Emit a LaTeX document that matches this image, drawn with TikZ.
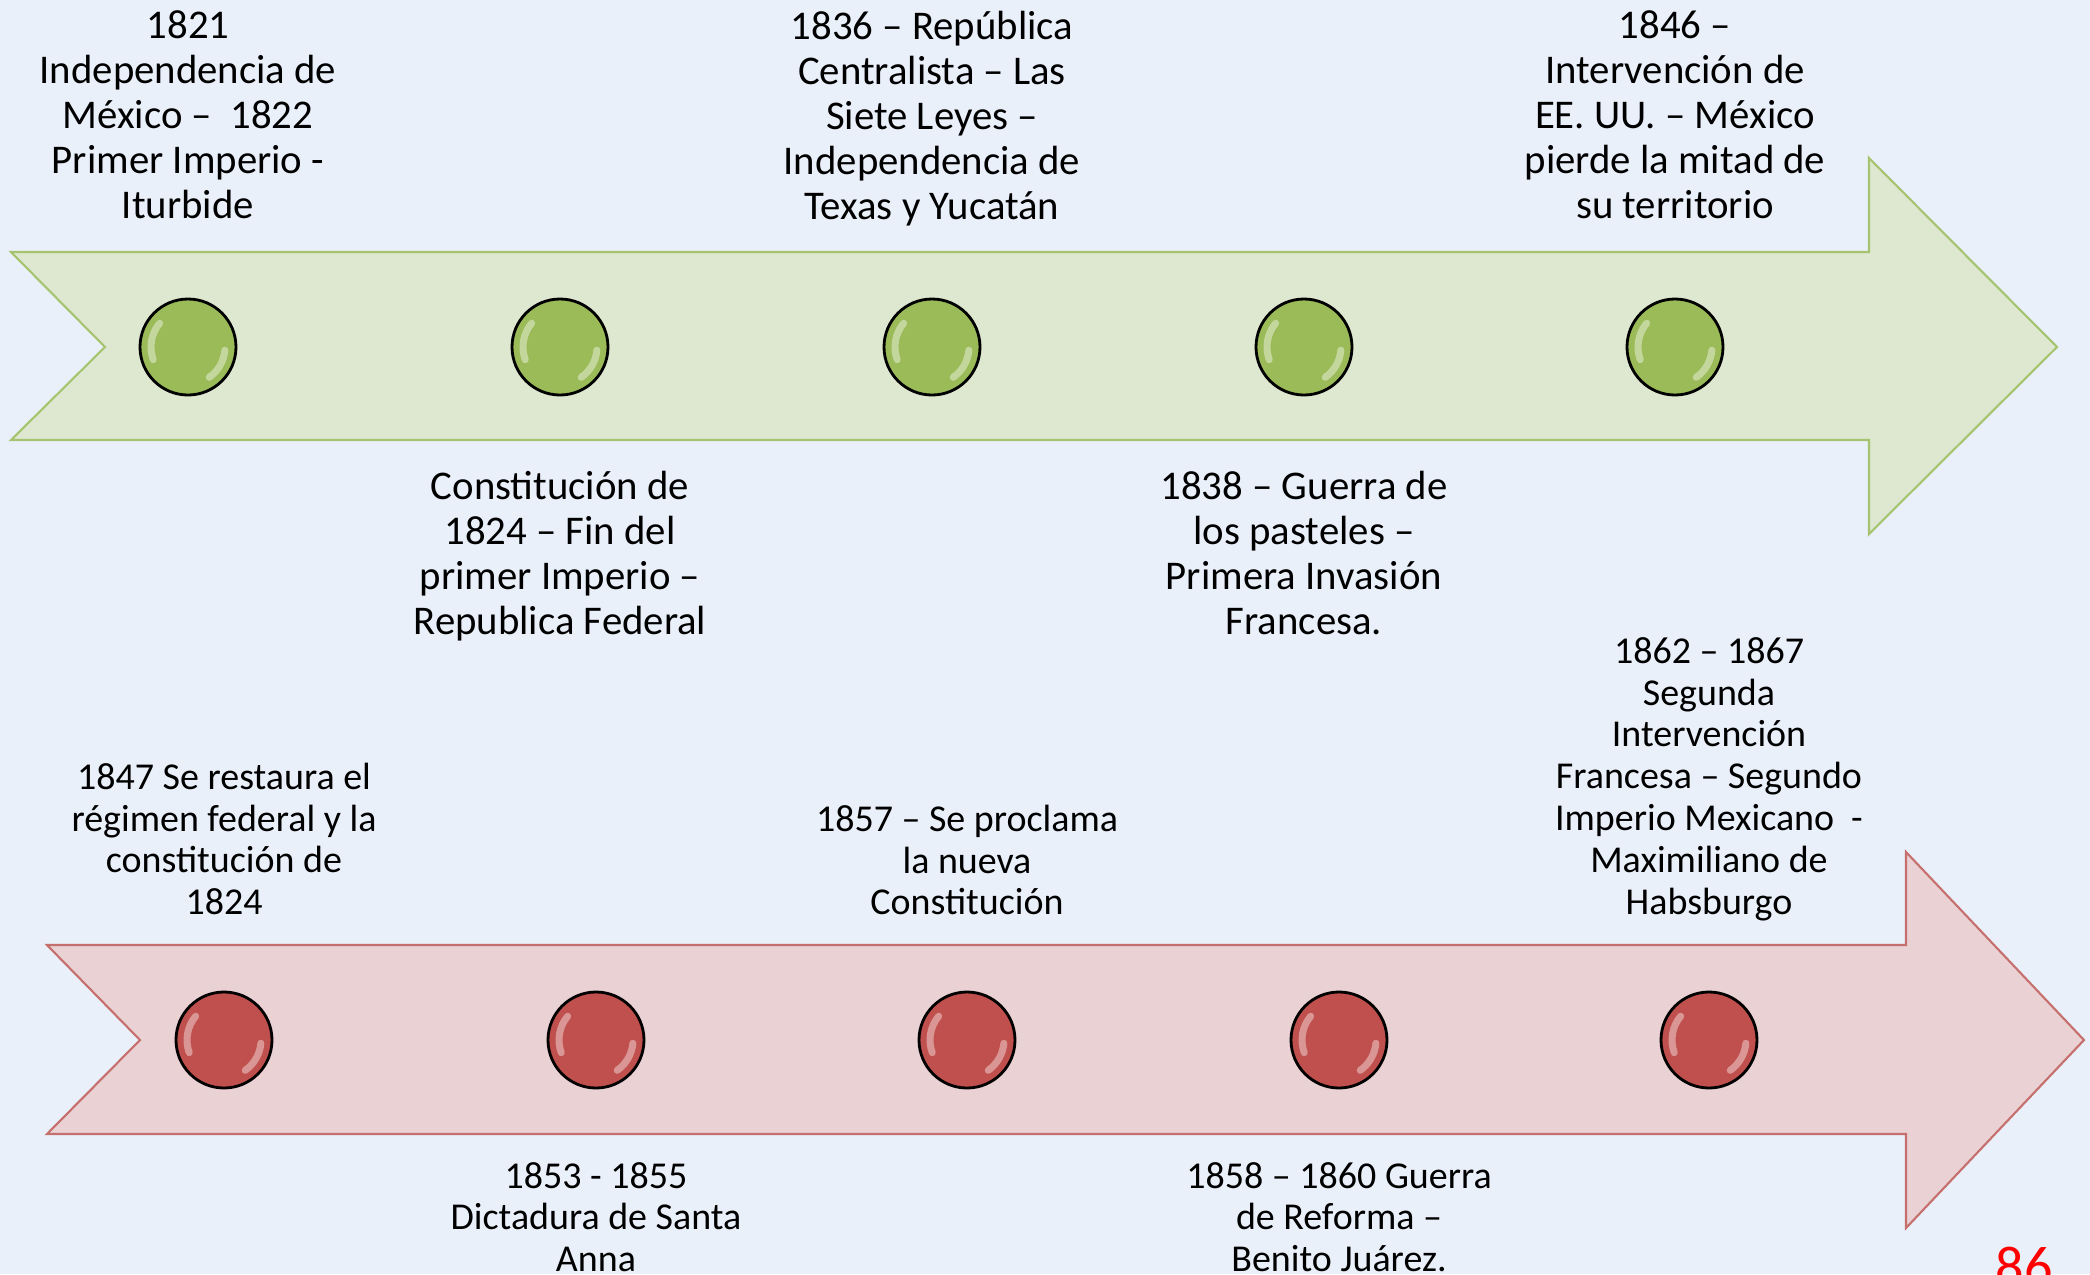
\documentclass[tikz,border=0pt]{standalone}
\usepackage{fontspec}
\setmainfont{Carlito}
\definecolor{tlbg}{RGB}{234,240,250}
\definecolor{tlgreen}{RGB}{155,187,89}
\definecolor{tlgreenfill}{RGB}{222,232,208}
\definecolor{tlgreenline}{RGB}{166,196,112}
\definecolor{tlred}{RGB}{192,80,77}
\definecolor{tlredfill}{RGB}{233,209,212}
\definecolor{tlredline}{RGB}{198,112,110}
\definecolor{pagered}{RGB}{255,0,0}
\begin{document}
\begin{tikzpicture}[x=0.1mm,y=-0.1mm,
    ball/.style={circle,draw=black,line width=0.8pt,minimum size=9.6mm,inner sep=0pt,
      path picture={
        \draw[white,opacity=.4,line width=0.7mm,line cap=round]
          (path picture bounding box.center) +(140:3.7mm) arc[start angle=140,end angle=200,radius=3.7mm];
        \draw[white,opacity=.4,line width=0.7mm,line cap=round]
          (path picture bounding box.center) +(-5:3.7mm) arc[start angle=-5,end angle=-55,radius=3.7mm];
      }},
    gball/.style={ball,fill=tlgreen},
    rball/.style={ball,fill=tlred},
    uptext/.style={align=center,inner sep=0pt,font=\fontsize{11.6}{12.8}\selectfont},
    lowtext/.style={align=center,inner sep=0pt,font=\fontsize{10.8}{11.9}\selectfont}]
  \useasboundingbox (0,0) rectangle (2090,1274);
  \fill[tlbg] (0,0) rectangle (2090,1274);
  % Arrows
  \draw[fill=tlgreenfill,draw=tlgreenline,line width=0.6pt]
    (11,252) -- (1869,252) -- (1869,158) -- (2057,347) -- (1869,534)
    -- (1869,440) -- (11,440) -- (105,347) -- cycle;
  \draw[fill=tlredfill,draw=tlredline,line width=0.6pt]
    (47,945) -- (1906,945) -- (1906,852) -- (2084,1040) -- (1906,1228)
    -- (1906,1134) -- (47,1134) -- (140,1040) -- cycle;
  % Milestones
  \foreach \x [count=\i] in {188,560,932,1304,1675}
    \node[gball] (g\i) at (\x,347) {};
  \foreach \x [count=\i] in {224,596,967,1339,1709}
    \node[rball] (r\i) at (\x,1040) {};
  % Labels, first row
  \node[uptext] (t1) at (188,115) {1821\\Independencia de\\México –~ 1822\\Primer Imperio -\\Iturbide};
  \node[uptext] (t2) at (560,556) {Constitución de\\1824 – Fin del\\primer Imperio –\\Republica Federal};
  \node[uptext] (t3) at (932,119) {1836 – República\\Centralista – Las\\Siete Leyes –\\Independencia de\\Texas y Yucatán};
  \node[uptext] (t4) at (1304,553) {1838 – Guerra de\\los pasteles –\\Primera Invasión\\Francesa.};
  \node[uptext] (t5) at (1675,115) {1846 –\\Intervención de\\EE. UU. – México\\pierde la mitad de\\su territorio};
  % Labels, second row
  \node[lowtext] (s1) at (224,839) {1847 Se restaura el\\régimen federal y la\\constitución de\\1824};
  \node[lowtext] (s2) at (596,1217) {1853 - 1855\\Dictadura de Santa\\Anna};
  \node[lowtext] (s3) at (967,860) {1857 – Se proclama\\la nueva\\Constitución};
  \node[lowtext] (s4) at (1339,1217) {1858 – 1860 Guerra\\de Reforma –\\Benito Juárez.};
  \node[lowtext] (s5) at (1709,779) {1862 – 1867\\Segunda\\Intervención\\Francesa – Segundo\\Imperio Mexicano~ -\\Maximiliano de\\Habsburgo};
  \node[pagered,anchor=base,inner sep=0pt,font=\fontsize{16}{19}\selectfont] (pg) at (2024,1285) {86};
\end{tikzpicture}
\end{document}
